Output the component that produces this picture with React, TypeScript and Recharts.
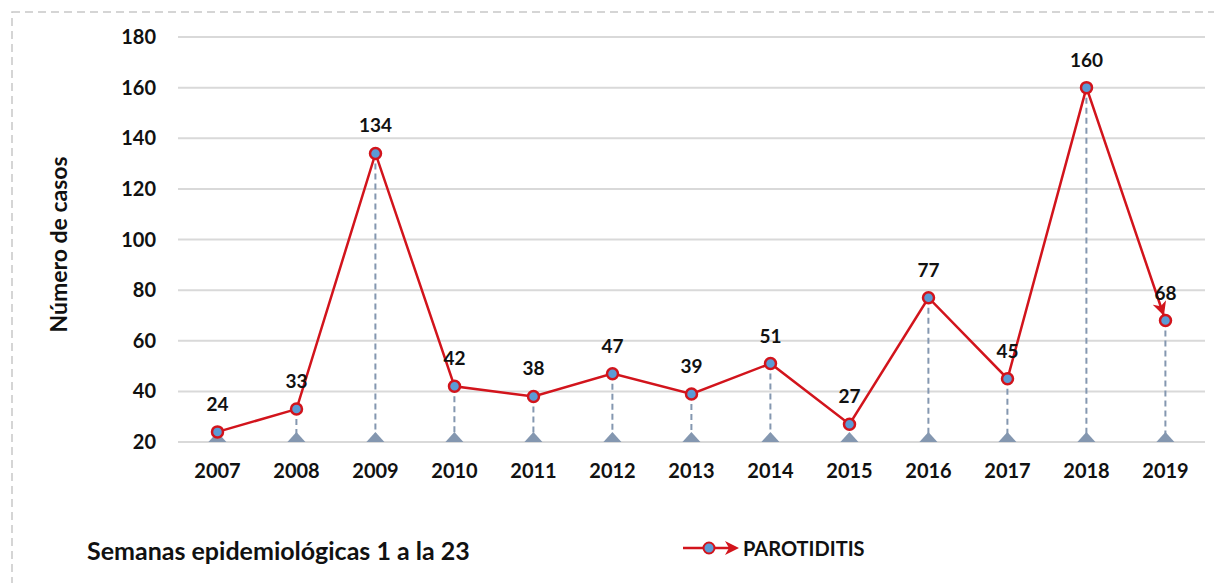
import React from 'react';
import { ComposedChart, Line, Bar, XAxis, YAxis, CartesianGrid, LabelList, Legend } from 'recharts';

const years = ['2007','2008','2009','2010','2011','2012','2013','2014','2015','2016','2017','2018','2019'];
const cases = [24, 33, 134, 42, 38, 47, 39, 51, 27, 77, 45, 160, 68];
const yTicks = [20, 40, 60, 80, 100, 120, 140, 160, 180];
const seriesName = 'PAROTIDITIS';
const yTitle = 'Número de casos';
const footnote = 'Semanas epidemiológicas 1 a la 23';

const data = years.map((y, i) => ({ year: y, value: cases[i] }));

const RED = '#D2141C';
const BLUE = '#5B9BD5';
const DROP = '#8497B0';
const FONT = 'Lato, "Open Sans", sans-serif';

const DropShape = (props: any) => {
  const { x, y, width, height } = props;
  const cx = x + width / 2;
  const bottom = y + height;
  return (
    <g>
      <line x1={cx} y1={y} x2={cx} y2={bottom} stroke={DROP} strokeWidth={2} strokeDasharray="6 4" />
      <path d={`M${cx - 9},${bottom} L${cx},${bottom - 10} L${cx + 9},${bottom} Z`} fill={DROP} />
    </g>
  );
};

const LegendContent = () => (
  <div style={{ display: 'flex', alignItems: 'center', fontFamily: FONT, fontWeight: 700, fontSize: 20, color: '#111', height: 22 }}>
    <svg width={58} height={20} style={{ overflow: 'visible' }}>
      <line x1={0} y1={10} x2={46} y2={10} stroke={RED} strokeWidth={2.5} />
      <path d="M42,3 L56,10 L42,17 L46,10 Z" fill={RED} />
      <circle cx={26} cy={10} r={5.5} fill={BLUE} stroke={RED} strokeWidth={2} />
    </svg>
    <span style={{ marginLeft: 2 }}>{seriesName}</span>
  </div>
);

export default function App() {
  return (
    <div style={{ position: 'absolute', left: 0, top: 0, width: 1214, height: 583, background: '#fff' }}>
      <svg width={1214} height={583} style={{ position: 'absolute', left: 0, top: 0 }}>
        <defs>
          <marker id="arrowEnd" markerUnits="userSpaceOnUse" viewBox="0 0 14 14" markerWidth={14} markerHeight={14} refX={19} refY={7} orient="auto">
            <path d="M0,0 L14,7 L0,14 L4,7 Z" fill={RED} />
          </marker>
        </defs>
        <rect x={12} y={12} width={1214} height={600} fill="none" stroke="#C8C8C8" strokeWidth={1.5} strokeDasharray="8 5" />
      </svg>
      <div style={{ position: 'absolute', left: 0, top: 0 }}>
        <ComposedChart width={1214} height={583} data={data} margin={{ top: 37, right: 9, left: 118, bottom: 89 }}>
          <CartesianGrid vertical={false} stroke="#D9D9D9" strokeWidth={2} />
          <XAxis
            dataKey="year"
            axisLine={false}
            tickLine={false}
            tickMargin={16}
            height={30}
            tick={{ fill: '#111', fontSize: 20, fontWeight: 700, fontFamily: FONT }}
          />
          <YAxis
            domain={[20, 180]}
            ticks={yTicks}
            interval={0}
            axisLine={false}
            tickLine={false}
            tickMargin={16}
            width={60}
            tick={{ fill: '#111', fontSize: 20, fontWeight: 700, fontFamily: FONT }}
            label={{ value: yTitle, angle: -90, position: 'insideLeft', dx: -64, dy: 5, style: { fill: '#111', fontSize: 23, fontWeight: 700, fontFamily: FONT, textAnchor: 'middle' } }}
          />
          <Bar dataKey="value" isAnimationActive={false} shape={<DropShape />} legendType="none" />
          <Line
            dataKey="value"
            name={seriesName}
            type="linear"
            stroke={RED}
            strokeWidth={2.5}
            markerEnd="url(#arrowEnd)"
            dot={{ r: 5.5, fill: BLUE, stroke: RED, strokeWidth: 2.5 }}
            activeDot={false}
            isAnimationActive={false}
          >
            <LabelList dataKey="value" position="top" offset={21} style={{ fill: '#111', fontSize: 19, fontWeight: 700, fontFamily: FONT }} />
          </Line>
          <Legend content={<LegendContent />} wrapperStyle={{ position: 'absolute', left: 683, top: 537, width: 220, height: 22 }} />
        </ComposedChart>
      </div>
      <div style={{ position: 'absolute', left: 87, top: 535, fontFamily: FONT, fontWeight: 700, fontSize: 25, color: '#111', whiteSpace: 'nowrap' }}>
        {footnote}
      </div>
    </div>
  );
}
